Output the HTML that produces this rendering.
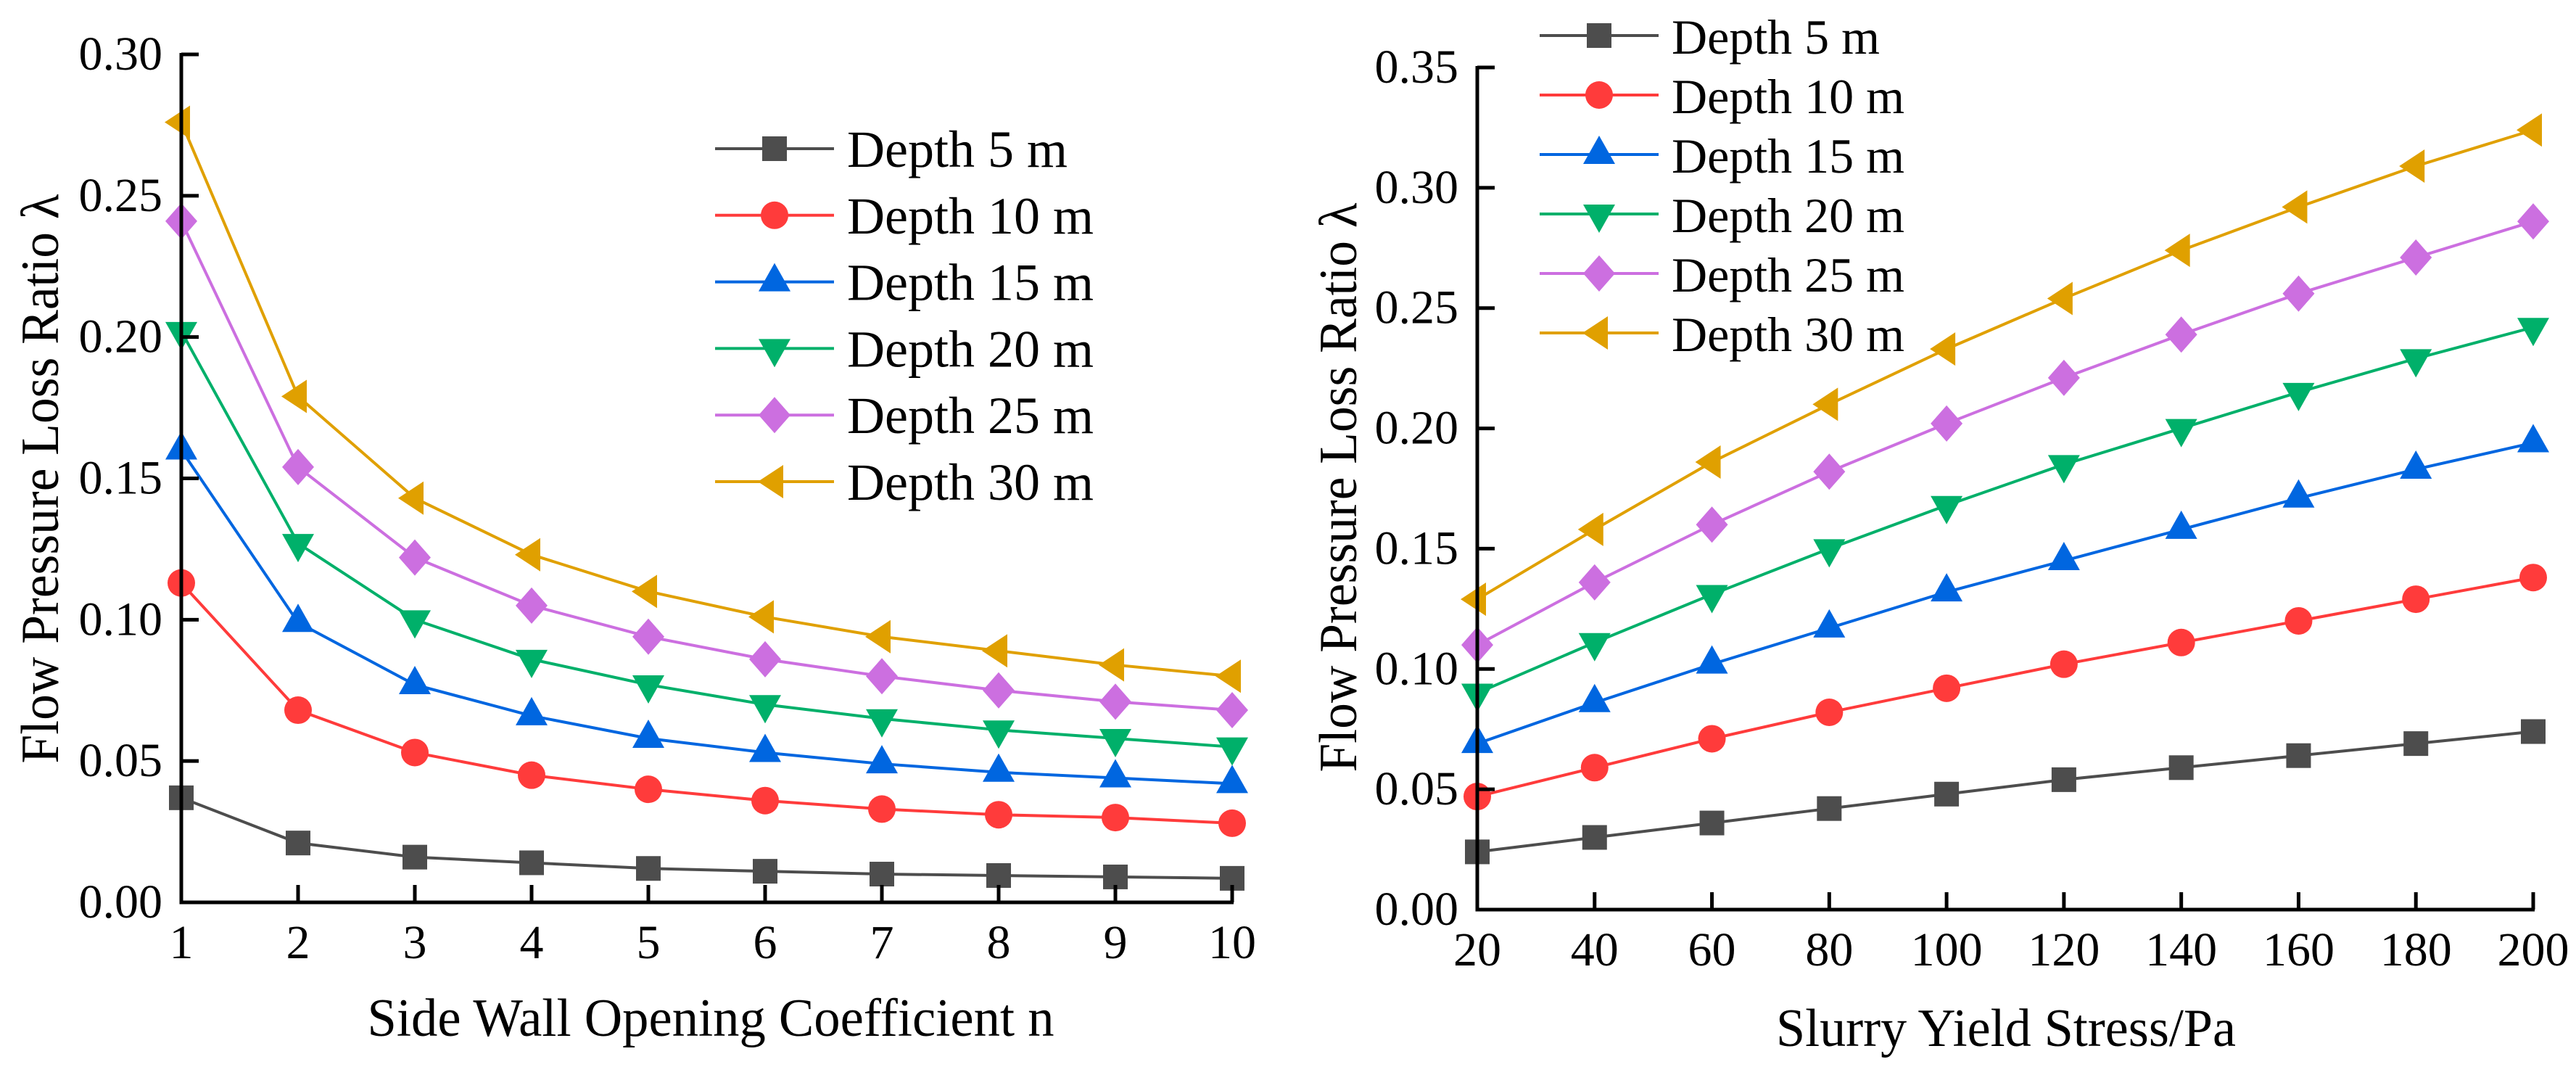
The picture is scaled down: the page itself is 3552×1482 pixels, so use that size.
<!DOCTYPE html>
<html><head><meta charset="utf-8"><style>
html,body{margin:0;padding:0;background:#fff}
svg{display:block}
text{font-family:"Liberation Serif",serif;fill:#000}
</style></head><body>
<svg id="c" width="3552" height="1482" viewBox="0 0 3552 1482" xmlns="http://www.w3.org/2000/svg"></svg>
<script>
const seriesNames=["Depth 5 m","Depth 10 m","Depth 15 m","Depth 20 m","Depth 25 m","Depth 30 m"];
const colors=["#4D4D4D","#FF3B3B","#0066E0","#00B06A","#CC6FE0","#E0A000"];
const markers=["square","circle","up","down","diamond","left"];
const leftX=[1,2,3,4,5,6,7,8,9,10];
const left5=[0.037,0.021,0.016,0.014,0.012,0.011,0.010,0.0095,0.009,0.0085];
const left10=[0.113,0.068,0.053,0.045,0.040,0.036,0.033,0.031,0.030,0.028];
const left15=[0.160,0.099,0.077,0.066,0.058,0.053,0.049,0.046,0.044,0.042];
const left20=[0.202,0.127,0.100,0.086,0.077,0.070,0.065,0.061,0.058,0.055];
const left25=[0.241,0.154,0.122,0.105,0.094,0.086,0.080,0.075,0.071,0.068];
const left30=[0.276,0.179,0.143,0.123,0.110,0.101,0.094,0.089,0.084,0.080];
const leftYTicks=["0.00","0.05","0.10","0.15","0.20","0.25","0.30"];
const rightX=[20,40,60,80,100,120,140,160,180,200];
const right5=[0.024,0.030,0.036,0.042,0.048,0.054,0.059,0.064,0.069,0.074];
const right10=[0.047,0.059,0.071,0.082,0.092,0.102,0.111,0.120,0.129,0.138];
const right15=[0.069,0.086,0.102,0.117,0.132,0.145,0.158,0.171,0.183,0.194];
const right20=[0.090,0.111,0.131,0.150,0.168,0.185,0.200,0.215,0.229,0.242];
const right25=[0.110,0.136,0.160,0.182,0.202,0.221,0.239,0.256,0.271,0.286];
const right30=[0.129,0.158,0.186,0.210,0.233,0.254,0.274,0.292,0.309,0.324];
const rightYTicks=["0.00","0.05","0.10","0.15","0.20","0.25","0.30","0.35"];

const svg=document.getElementById('c');
const NS="http://www.w3.org/2000/svg";
function el(tag,attrs,parent){const e=document.createElementNS(NS,tag);for(const k in attrs)e.setAttribute(k,attrs[k]);(parent||svg).appendChild(e);return e;}
function marker(type,cx,cy,col,g){
  let e;
  if(type==="square")e=el('rect',{x:cx-17,y:cy-17,width:34,height:34,fill:col},g);
  else if(type==="circle")e=el('circle',{cx:cx,cy:cy,r:19,fill:col},g);
  else if(type==="up")e=el('polygon',{points:`${cx},${cy-26} ${cx+22},${cy+13} ${cx-22},${cy+13}`,fill:col},g);
  else if(type==="down")e=el('polygon',{points:`${cx},${cy+26} ${cx+22},${cy-13} ${cx-22},${cy-13}`,fill:col},g);
  else if(type==="diamond")e=el('polygon',{points:`${cx},${cy-25} ${cx+22},${cy} ${cx},${cy+25} ${cx-22},${cy}`,fill:col},g);
  else e=el('polygon',{points:`${cx-23},${cy} ${cx+12},${cy-23} ${cx+12},${cy+23}`,fill:col},g);
  
  
  return e;
}
function chart(cfg){
  const g=el('g',{});
  
  
  const xs=v=>cfg.x0+(v-cfg.xmin)/(cfg.xmax-cfg.xmin)*(cfg.x1-cfg.x0);
  const ys=v=>cfg.y0-(v/cfg.ymax)*(cfg.y0-cfg.y1);
  cfg.series.forEach((vals,i)=>{
    const sg=el('g',{},g);
    
    
    const pts=vals.map((v,j)=>xs(cfg.xv[j])+','+ys(v)).join(' ');
    const pl=el('polyline',{points:pts,fill:'none',stroke:colors[i],'stroke-width':4},sg);
    
    
    vals.forEach((v,j)=>marker(markers[i],xs(cfg.xv[j]),ys(v),colors[i],sg));
  });
  const ax=el('path',{d:`M${cfg.x0},${cfg.y1-2}V${cfg.y0}H${cfg.x1+2}`,fill:'none',stroke:'#000','stroke-width':5},g);
  
  
  cfg.xv.forEach(v=>{
    const x=xs(v);
    const t=el('line',{x1:x,x2:x,y1:cfg.y0,y2:cfg.y0-24,stroke:'#000','stroke-width':5},g);
    
    
    const l=el('text',{x:x,y:cfg.y0+77,'font-size':66,'text-anchor':'middle'},g);
    l.textContent=v;
    
    
  });
  cfg.yt.forEach(s=>{
    const y=ys(parseFloat(s));
    const t=el('line',{x1:cfg.x0,x2:cfg.x0+24,y1:y,y2:y,stroke:'#000','stroke-width':5},g);
    
    
    const l=el('text',{x:cfg.x0-26,y:y+21,'font-size':66,'text-anchor':'end'},g);
    l.textContent=s;
    
    
  });
  const xt=el('text',{x:cfg.xtx,y:cfg.xty,'font-size':74,'text-anchor':'middle',textLength:cfg.xtw,lengthAdjust:'spacingAndGlyphs'},g);
  xt.textContent=cfg.xtitle;
  
  
  const yt=el('text',{x:0,y:0,'font-size':74,'text-anchor':'middle',textLength:785,lengthAdjust:'spacingAndGlyphs',transform:`translate(${cfg.ytx},${cfg.yty}) rotate(-90)`},g);
  yt.textContent="Flow Pressure Loss Ratio λ";
  
  
  const lg=el('g',{},g);
  
  
  seriesNames.forEach((n,i)=>{
    const y=cfg.ly+i*cfg.ldy;
    const eg=el('g',{},lg);
    
    
    el('line',{x1:cfg.lx,x2:cfg.lx+164,y1:y,y2:y,stroke:colors[i],'stroke-width':4},eg);
    marker(markers[i],cfg.lx+82,y,colors[i],eg);
    const t=el('text',{x:cfg.lx+182,y:y+25,'font-size':cfg.lfs},eg);
    t.textContent=n;
  });
}
chart({name:'left-chart',x0:250,x1:1699,y0:1244,y1:75,xmin:1,xmax:10,ymax:0.30,xv:leftX,
  series:[left5,left10,left15,left20,left25,left30],yt:leftYTicks,
  xtitle:"Side Wall Opening Coefficient n",xtx:980,xty:1428,xtw:947,ytx:80,yty:660,
  lx:986,ly:205,ldy:91.8,lfs:72});
chart({name:'right-chart',x0:2037,x1:3493,y0:1254,y1:93,xmin:20,xmax:200,ymax:0.35,xv:rightX,
  series:[right5,right10,right15,right20,right25,right30],yt:rightYTicks,
  xtitle:"Slurry Yield Stress/Pa",xtx:2766,xty:1442,xtw:634,ytx:1870,yty:672,
  lx:2123,ly:49,ldy:82,lfs:68});
</script>
</body></html>
